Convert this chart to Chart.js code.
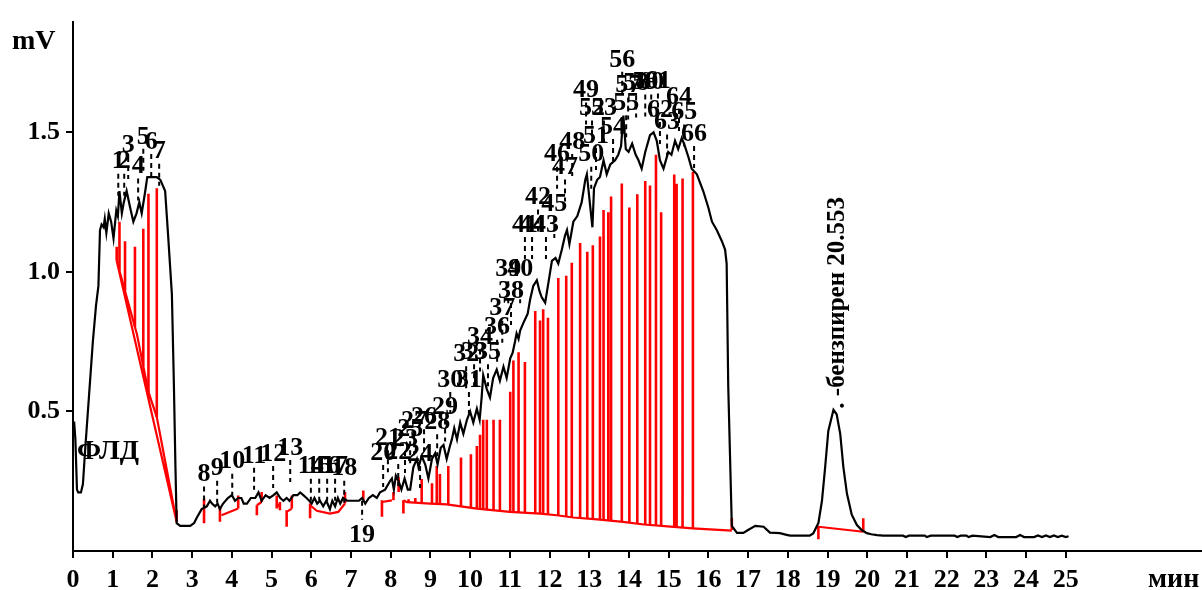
<!DOCTYPE html>
<html>
<head>
<meta charset="utf-8">
<script src="https://cdn.jsdelivr.net/npm/chart.js@4.4.0/dist/chart.umd.min.js"></script>
<style>
  html, body { margin: 0; padding: 0; background: #fff; }
  #wrap { width: 1202px; height: 590px; }
</style>
</head>
<body>
<div id="wrap"><canvas id="chromChart" width="1202" height="590"></canvas></div>
<script>
// detector trace, minutes / mV
const traceX = [0.00, 0.03, 0.06, 0.10, 0.13, 0.20, 0.25, 0.30, 0.40, 0.50, 0.58, 0.64, 0.68, 0.72, 0.77, 0.80, 0.84, 0.90, 0.96, 1.02,
  1.09, 1.13, 1.17, 1.23, 1.28, 1.35, 1.44, 1.52, 1.60, 1.67, 1.73, 1.82, 1.87, 1.99, 2.11, 2.20, 2.32, 2.40, 2.49, 2.54,
  2.58, 2.61, 2.70, 2.95, 3.05, 3.12, 3.24, 3.37, 3.45, 3.50, 3.58, 3.64, 3.70, 3.78, 3.90, 4.00, 4.08, 4.16, 4.24, 4.30,
  4.38, 4.48, 4.59, 4.67, 4.75, 4.85, 4.95, 5.05, 5.13, 5.22, 5.30, 5.38, 5.45, 5.55, 5.65, 5.72, 5.80, 5.88, 5.95, 6.01,
  6.08, 6.15, 6.22, 6.30, 6.38, 6.47, 6.53, 6.60, 6.67, 6.73, 6.80, 6.90, 6.98, 7.10, 7.20, 7.28, 7.36, 7.45, 7.55, 7.65,
  7.73, 7.86, 7.98, 8.03, 8.08, 8.13, 8.20, 8.27, 8.35, 8.43, 8.49, 8.57, 8.66, 8.70, 8.78, 8.87, 8.95, 9.04, 9.12, 9.18,
  9.26, 9.33, 9.41, 9.48, 9.54, 9.60, 9.67, 9.75, 9.83, 9.92, 10.00, 10.08, 10.17, 10.24, 10.29, 10.33, 10.42, 10.50, 10.58, 10.67,
  10.75, 10.84, 10.92, 11.01, 11.07, 11.13, 11.17, 11.22, 11.26, 11.35, 11.45, 11.51, 11.59, 11.68, 11.75, 11.80, 11.89, 11.97, 12.06, 12.15,
  12.22, 12.31, 12.39, 12.44, 12.50, 12.60, 12.70, 12.81, 12.90, 12.94, 13.02, 13.08, 13.12, 13.20, 13.27, 13.36, 13.44, 13.53, 13.65, 13.73,
  13.80, 13.86, 13.92, 13.99, 14.08, 14.17, 14.24, 14.32, 14.41, 14.53, 14.62, 14.70, 14.78, 14.87, 14.99, 15.07, 15.16, 15.24, 15.33, 15.41,
  15.50, 15.58, 15.71, 15.87, 16.00, 16.09, 16.21, 16.34, 16.42, 16.46, 16.50, 16.59, 16.72, 16.88, 17.00, 17.18, 17.39, 17.55, 17.80, 17.97,
  18.06, 18.55, 18.64, 18.77, 18.86, 18.94, 19.02, 19.15, 19.23, 19.32, 19.40, 19.49, 19.61, 19.74, 19.86, 19.99, 20.10, 20.25, 20.40, 20.90,
  20.97, 21.05, 21.45, 21.50, 21.60, 22.20, 22.27, 22.35, 22.50, 22.55, 22.65, 23.10, 23.20, 23.30, 23.75, 23.85, 23.95, 24.20, 24.30, 24.40,
  24.50, 24.60, 24.70, 24.80, 24.90, 25.00, 25.07];
const traceY = [0.46, 0.46, 0.40, 0.22, 0.21, 0.21, 0.24, 0.35, 0.55, 0.75, 0.88, 0.95, 1.15, 1.17, 1.16, 1.19, 1.14, 1.21, 1.18, 1.12,
  1.22, 1.20, 1.29, 1.21, 1.25, 1.29, 1.23, 1.18, 1.21, 1.25, 1.21, 1.29, 1.34, 1.34, 1.34, 1.33, 1.29, 1.12, 0.92, 0.60,
  0.30, 0.10, 0.09, 0.09, 0.10, 0.12, 0.15, 0.16, 0.18, 0.17, 0.16, 0.17, 0.15, 0.17, 0.19, 0.20, 0.18, 0.19, 0.19, 0.17,
  0.17, 0.19, 0.19, 0.21, 0.18, 0.20, 0.19, 0.20, 0.21, 0.19, 0.18, 0.19, 0.18, 0.20, 0.20, 0.21, 0.20, 0.19, 0.18, 0.17,
  0.19, 0.17, 0.18, 0.16, 0.18, 0.15, 0.18, 0.16, 0.19, 0.17, 0.19, 0.18, 0.18, 0.18, 0.18, 0.19, 0.17, 0.19, 0.20, 0.19,
  0.21, 0.22, 0.25, 0.26, 0.22, 0.27, 0.25, 0.22, 0.26, 0.22, 0.22, 0.30, 0.33, 0.30, 0.34, 0.31, 0.26, 0.33, 0.35, 0.31,
  0.37, 0.38, 0.33, 0.37, 0.40, 0.44, 0.40, 0.46, 0.42, 0.47, 0.50, 0.46, 0.51, 0.47, 0.55, 0.63, 0.58, 0.55, 0.62, 0.65,
  0.61, 0.66, 0.62, 0.69, 0.71, 0.75, 0.78, 0.76, 0.79, 0.82, 0.85, 0.90, 0.95, 0.97, 0.93, 0.91, 0.89, 0.96, 1.04, 1.05,
  1.03, 1.08, 1.13, 1.15, 1.10, 1.18, 1.20, 1.25, 1.33, 1.35, 1.24, 1.16, 1.30, 1.33, 1.34, 1.40, 1.35, 1.385, 1.40, 1.42,
  1.45, 1.56, 1.44, 1.43, 1.46, 1.42, 1.40, 1.37, 1.43, 1.49, 1.50, 1.47, 1.40, 1.37, 1.43, 1.42, 1.47, 1.44, 1.48, 1.45,
  1.41, 1.37, 1.35, 1.29, 1.23, 1.18, 1.15, 1.11, 1.08, 1.03, 0.59, 0.09, 0.065, 0.065, 0.075, 0.09, 0.087, 0.066, 0.064, 0.058,
  0.055, 0.055, 0.063, 0.10, 0.18, 0.30, 0.43, 0.506, 0.49, 0.42, 0.30, 0.205, 0.13, 0.093, 0.075, 0.064, 0.060, 0.057, 0.055, 0.055,
  0.050, 0.055, 0.055, 0.050, 0.055, 0.055, 0.050, 0.055, 0.055, 0.050, 0.055, 0.050, 0.057, 0.050, 0.050, 0.057, 0.050, 0.050, 0.056, 0.050,
  0.056, 0.050, 0.056, 0.050, 0.055, 0.050, 0.053];

// integration baselines
const base1X = [1.10, 1.61, 1.90, 2.11, 2.61];
const base1Y = [1.04, 0.777, 0.57, 0.48, 0.105];
const base1bX = [1.10, 2.61];
const base1bY = [1.04, 0.105];
const base3X = [8.32, 8.41, 8.99, 9.41, 10.17, 11.00, 11.76, 12.18, 12.60, 13.20, 13.79, 14.38, 15.05, 15.60, 16.59];
const base3Y = [0.1815, 0.175, 0.17, 0.167, 0.152, 0.14, 0.134, 0.128, 0.12, 0.113, 0.105, 0.095, 0.087, 0.081, 0.073];
const smallBaseX = [[3.74, 4.16], [4.63, 4.75], [5.13, 5.21], [5.38, 5.51], [5.97, 6.14, 6.47, 6.68, 6.85], [7.78, 8.03], [18.77, 19.90]];
const smallBaseY = [[0.128, 0.152], [0.164, 0.1755], [0.17, 0.158], [0.14, 0.152], [0.164, 0.144, 0.134, 0.14, 0.17], [0.1755, 0.1815], [0.087, 0.069]];

// short red peak-limit ticks: x, low, high
const limitX = [2.61, 3.30, 3.70, 4.16, 4.63, 4.75, 5.13, 5.21, 5.38, 5.51, 5.97, 6.85, 7.31, 7.78, 8.07, 8.20, 8.32, 16.59, 18.77, 19.90];
const limitLo = [0.105, 0.099, 0.105, 0.152, 0.128, 0.1755, 0.152, 0.146, 0.087, 0.152, 0.117, 0.170, 0.1815, 0.1225, 0.1815, 0.211, 0.1345, 0.075, 0.042, 0.069];
const limitHi = [0.146, 0.1875, 0.158, 0.199, 0.164, 0.211, 0.199, 0.1755, 0.146, 0.199, 0.170, 0.211, 0.217, 0.1815, 0.211, 0.264, 0.1815, 0.118, 0.09, 0.117];

// red drop lines (top value), bottom sits on the baseline
const drop1X = [1.10, 1.17, 1.31, 1.56, 1.77, 1.90, 2.11];
const drop1Top = [1.09, 1.18, 1.11, 1.09, 1.155, 1.28, 1.30];
const drop3X = [8.45, 8.62, 8.78, 9.04, 9.16, 9.24, 9.45, 9.77, 10.02, 10.17, 10.25, 10.33, 10.42, 10.59, 10.75, 11.01, 11.09, 11.22, 11.38, 11.64,
  11.76, 11.84, 11.96, 12.22, 12.42, 12.56, 12.77, 12.95, 13.09, 13.27, 13.36, 13.48, 13.55, 13.82, 14.01, 14.21, 14.41, 14.53, 14.68, 14.81,
  15.14, 15.20, 15.35, 15.61];
const drop3Top = [0.185, 0.19, 0.258, 0.243, 0.305, 0.276, 0.305, 0.335, 0.347, 0.376, 0.417, 0.47, 0.47, 0.47, 0.47, 0.571, 0.683, 0.712, 0.677, 0.86,
  0.826, 0.866, 0.836, 0.978, 0.986, 1.033, 1.104, 1.072, 1.096, 1.127, 1.222, 1.214, 1.270, 1.317, 1.231, 1.278, 1.326, 1.310, 1.420, 1.214,
  1.349, 1.316, 1.335, 1.359];

// peak numbers and where their labels sit
const peakNum = [];
for (let i = 1; i <= 66; i++) peakNum.push(i);
const peakLabelX = [1.14, 1.29, 1.39, 1.64, 1.77, 1.97, 2.17, 3.30, 3.63, 4.01, 4.56, 5.04, 5.47, 5.99, 6.20, 6.40, 6.60, 6.83, 7.28, 7.81,
  7.93, 8.19, 8.36, 8.74, 8.49, 8.84, 8.59, 9.17, 9.37, 9.50, 9.97, 9.90, 10.10, 10.25, 10.45, 10.68, 10.81, 11.03, 10.96, 11.26,
  11.38, 11.71, 11.91, 11.56, 12.12, 12.19, 12.39, 12.57, 12.92, 13.05, 13.17, 13.07, 13.37, 13.60, 13.93, 13.83, 13.98, 14.18, 14.41, 14.56,
  14.73, 14.78, 14.96, 15.26, 15.39, 15.64];
const peakLabelY = [1.395, 1.395, 1.455, 1.378, 1.484, 1.466, 1.431, 0.274, 0.295, 0.320, 0.341, 0.348, 0.369, 0.302, 0.302, 0.302, 0.302, 0.295, 0.058, 0.351,
  0.404, 0.355, 0.401, 0.348, 0.436, 0.479, 0.465, 0.461, 0.514, 0.613, 0.613, 0.705, 0.712, 0.765, 0.712, 0.80, 0.868, 0.932, 1.01, 1.01,
  1.168, 1.267, 1.168, 1.168, 1.243, 1.42, 1.374, 1.466, 1.65, 1.42, 1.487, 1.586, 1.586, 1.519, 1.604, 1.76, 1.668, 1.675, 1.679, 1.679,
  1.682, 1.58, 1.535, 1.627, 1.571, 1.494];
const labelsUnder = [19];

const detectorName = 'ФЛД';
const benzLabel = '. -бензпирен 20.553';
const benzX = 19.24, benzY = 0.51;

const FONT = '"Liberation Serif", "Times New Roman", serif';

function pts(xs, ys) {
  return xs.map((v, i) => ({ x: v, y: ys[i] }));
}

function baseAt(xs, ys, v) {
  for (let i = 0; i < xs.length - 1; i++) {
    if (v >= xs[i] && v <= xs[i + 1]) {
      const t = (v - xs[i]) / (xs[i + 1] - xs[i]);
      return ys[i] + t * (ys[i + 1] - ys[i]);
    }
  }
  return v < xs[0] ? ys[0] : ys[ys.length - 1];
}

// polylines joined with gaps
const baselinePts = [];
[[base1X, base1Y], [base1bX, base1bY], [base3X, base3Y]].concat(smallBaseX.map((s, i) => [s, smallBaseY[i]])).forEach(([xs, ys]) => {
  baselinePts.push(...pts(xs, ys));
  baselinePts.push({ x: xs[xs.length - 1], y: null });
});

const dropPts = [];
drop1X.forEach((v, i) => {
  dropPts.push({ x: v, y: baseAt(base1X, base1Y, v) }, { x: v, y: drop1Top[i] }, { x: v, y: null });
});
drop3X.forEach((v, i) => {
  dropPts.push({ x: v, y: baseAt(base3X, base3Y, v) }, { x: v, y: drop3Top[i] }, { x: v, y: null });
});
limitX.forEach((v, i) => {
  dropPts.push({ x: v, y: limitLo[i] }, { x: v, y: limitHi[i] }, { x: v, y: null });
});

const annotations = {
  id: 'annotations',
  afterDatasetsDraw(chart) {
    const { ctx } = chart;
    const xs = chart.scales.x, ys = chart.scales.y;
    ctx.save();
    ctx.fillStyle = '#000';
    ctx.strokeStyle = '#000';
    ctx.font = 'bold 26px ' + FONT;
    ctx.textAlign = 'center';
    ctx.textBaseline = 'middle';
    ctx.lineWidth = 2;
    peakNum.forEach((n, i) => {
      const px = xs.getPixelForValue(peakLabelX[i]);
      const py = ys.getPixelForValue(peakLabelY[i]);
      ctx.setLineDash([5, 4]);
      ctx.beginPath();
      if (labelsUnder.includes(n)) {
        ctx.moveTo(px, py - 34);
        ctx.lineTo(px, py - 15);
      } else {
        ctx.moveTo(px, py + 12);
        ctx.lineTo(px, py + 34);
      }
      ctx.stroke();
      ctx.setLineDash([]);
      ctx.fillText(String(n), px, py);
    });

    ctx.font = 'bold 28px ' + FONT;
    ctx.textAlign = 'left';
    ctx.fillText(detectorName, xs.getPixelForValue(0.1), ys.getPixelForValue(0.355));

    ctx.font = 'bold 25px ' + FONT;
    ctx.translate(xs.getPixelForValue(benzX), ys.getPixelForValue(benzY));
    ctx.rotate(-Math.PI / 2);
    ctx.fillText(benzLabel, 0, 0);
    ctx.restore();
  },
  afterDraw(chart) {
    const { ctx } = chart;
    ctx.save();
    ctx.fillStyle = '#000';
    ctx.font = 'bold 28px ' + FONT;
    ctx.textBaseline = 'alphabetic';
    ctx.textAlign = 'left';
    ctx.fillText('mV', 12, 49);
    ctx.fillText('мин', 1148, 587);
    ctx.restore();
  }
};

new Chart(document.getElementById('chromChart'), {
  type: 'line',
  data: {
    datasets: [
      {
        label: 'signal',
        data: pts(traceX, traceY),
        borderColor: '#000',
        borderWidth: 2.2,
        pointRadius: 0,
        tension: 0
      },
      {
        label: 'drops',
        data: dropPts,
        borderColor: '#ff0000',
        borderWidth: 2.6,
        pointRadius: 0,
        spanGaps: false
      },
      {
        label: 'baseline',
        data: baselinePts,
        borderColor: '#ff0000',
        borderWidth: 2.2,
        pointRadius: 0,
        spanGaps: false
      }
    ]
  },
  options: {
    responsive: false,
    animation: false,
    devicePixelRatio: 1,
    layout: { padding: { top: 15, right: 0, left: 0, bottom: 0 } },
    plugins: {
      legend: { display: false },
      tooltip: { enabled: false }
    },
    scales: {
      x: {
        type: 'linear',
        min: 0,
        max: 28.43,
        afterFit: (s) => { s.height = 39; },
        border: { display: true, color: '#000', width: 2 },
        grid: { drawOnChartArea: false, drawTicks: true, tickLength: 7, color: '#000', lineWidth: 2 },
        ticks: {
          stepSize: 1,
          maxRotation: 0,
          autoSkip: false,
          padding: 7,
          color: '#000',
          font: { family: FONT, size: 26, weight: 'bold' },
          callback: (v) => (v <= 25 && Number.isInteger(v)) ? String(v) : null
        }
      },
      y: {
        type: 'linear',
        min: 0,
        max: 1.897,
        afterFit: (s) => { s.width = 73; },
        border: { display: true, color: '#000', width: 2 },
        grid: { drawOnChartArea: false, drawTicks: true, tickLength: 7, color: '#000', lineWidth: 2 },
        ticks: {
          stepSize: 0.5,
          padding: 6,
          color: '#000',
          font: { family: FONT, size: 26, weight: 'bold' },
          callback: (v) => [0.5, 1, 1.5].includes(v) ? v.toFixed(1) : null
        }
      }
    }
  },
  plugins: [annotations]
});
</script>
</body>
</html>
